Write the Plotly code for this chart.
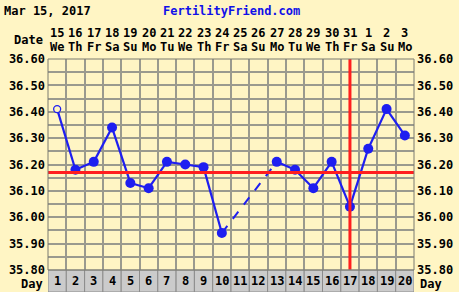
import plotly.graph_objects as go

days = list(range(1, 21))
dates = ["15", "16", "17", "18", "19", "20", "21", "22", "23", "24",
         "25", "26", "27", "28", "29", "30", "31", "1", "2", "3"]
weekdays = ["We", "Th", "Fr", "Sa", "Su", "Mo", "Tu", "We", "Th", "Fr",
            "Sa", "Su", "Mo", "Tu", "We", "Th", "Fr", "Sa", "Su", "Mo"]
temps = [36.41, 36.18, 36.21, 36.34, 36.13, 36.11, 36.21, 36.20, 36.19, 35.94,
         None, None, 36.21, 36.18, 36.11, 36.21, 36.04, 36.26, 36.41, 36.31]
open_days = [1]
coverline = 36.17
ovulation_day = 17
y_labels = [35.80, 35.90, 36.00, 36.10, 36.20, 36.30, 36.40, 36.50, 36.60]

BG = "#FFF5C4"
GRID = "#9A9A8E"
BLUE = "#1E1EF0"
RED = "#FF1E1E"
FONT = "DejaVu Sans Mono"

W, H = 459, 292
ML, MR, MT, MB = 48, 45, 59, 22
plot_h = H - MT - MB
plot_w = W - ML - MR

fig = go.Figure()

seg_x, seg_y = [], []
known = [(d, t) for d, t in zip(days, temps) if t is not None]
for (d0, t0), (d1, t1) in zip(known[:-1], known[1:]):
    if d1 - d0 == 1:
        seg_x += [d0, d1, None]
        seg_y += [t0, t1, None]
    else:
        fig.add_trace(go.Scatter(x=[d0, d1], y=[t0, t1], mode="lines",
                                 line=dict(color=BLUE, width=2, dash="dash"),
                                 hoverinfo="skip", showlegend=False))
fig.add_trace(go.Scatter(x=seg_x, y=seg_y, mode="lines",
                         line=dict(color=BLUE, width=2.2),
                         hoverinfo="skip", showlegend=False))

fx = [d for d, t in zip(days, temps) if t is not None and d not in open_days]
fy = [t for d, t in zip(days, temps) if t is not None and d not in open_days]
fig.add_trace(go.Scatter(x=fx, y=fy, mode="markers",
                         marker=dict(color=BLUE, size=10, line=dict(width=0)),
                         showlegend=False))
ox = [d for d, t in zip(days, temps) if d in open_days]
oy = [t for d, t in zip(days, temps) if d in open_days]
fig.add_trace(go.Scatter(x=ox, y=oy, mode="markers",
                         marker=dict(color=BG, size=7, symbol="circle",
                                     line=dict(color=BLUE, width=1.3)),
                         showlegend=False))

fig.add_trace(go.Scatter(x=[days[0]], y=[y_labels[0]], yaxis="y2", mode="markers",
                         marker=dict(opacity=0), hoverinfo="skip", showlegend=False))

shapes = []
shapes.append(dict(type="line", xref="paper", yref="y", x0=0, x1=1,
                   y0=coverline, y1=coverline, line=dict(color=RED, width=3), layer="above"))
shapes.append(dict(type="line", xref="x", yref="paper", x0=ovulation_day, x1=ovulation_day,
                   y0=0, y1=1, line=dict(color=RED, width=3), layer="above"))
cell_h = MB / plot_h
for d in days:
    shapes.append(dict(type="rect", xref="x", yref="paper", x0=d - 0.5, x1=d + 0.5,
                       y0=-cell_h, y1=0, fillcolor="#CBCBCB",
                       line=dict(color="#8C8C8C", width=1), layer="above"))
shapes.append(dict(type="rect", xref="paper", yref="paper", x0=0, x1=1, y0=0, y1=1,
                   line=dict(color="#7A7A70", width=1), layer="above"))

annotations = []
lab_font = dict(family=FONT, size=12, color="#000000")
for d, dt, wd in zip(days, dates, weekdays):
    annotations.append(dict(x=d, y=1 + 26 / plot_h, xref="x", yref="paper", text="<b>%s</b>" % dt,
                            showarrow=False, font=lab_font, xanchor="center", yanchor="middle"))
    annotations.append(dict(x=d, y=1 + 12 / plot_h, xref="x", yref="paper", text="<b>%s</b>" % wd,
                            showarrow=False, font=lab_font, xanchor="center", yanchor="middle"))
    annotations.append(dict(x=d, y=-11 / plot_h, xref="x", yref="paper", text="<b>%d</b>" % d,
                            showarrow=False, font=lab_font, xanchor="center", yanchor="middle"))
annotations.append(dict(x=-3 / plot_w, y=1 + 19 / plot_h, xref="paper", yref="paper",
                        text="<b>Date</b>", showarrow=False, font=lab_font,
                        xanchor="right", yanchor="middle"))
annotations.append(dict(x=-3 / plot_w, y=-14 / plot_h, xref="paper", yref="paper",
                        text="<b>Day</b>", showarrow=False, font=lab_font,
                        xanchor="right", yanchor="middle"))
annotations.append(dict(x=1 + 4 / plot_w, y=-14 / plot_h, xref="paper", yref="paper",
                        text="<b>Day</b>", showarrow=False, font=lab_font,
                        xanchor="left", yanchor="middle"))
annotations.append(dict(x=-46 / plot_w, y=1 + 48 / plot_h, xref="paper", yref="paper",
                        text="<b>Mar 15, 2017</b>", showarrow=False, font=lab_font,
                        xanchor="left", yanchor="middle"))
annotations.append(dict(x=(231 - ML) / plot_w, y=1 + 48 / plot_h, xref="paper", yref="paper",
                        text="<b>FertilityFriend.com</b>", showarrow=False,
                        font=dict(family=FONT, size=12, color="#1010E8"),
                        xanchor="center", yanchor="middle"))

yaxis_common = dict(range=[y_labels[0], y_labels[-1]], tickvals=y_labels,
                    ticktext=["<b>%.2f</b>" % v for v in y_labels],
                    tickfont=dict(family=FONT, size=12, color="#000000"),
                    ticks="", zeroline=False, fixedrange=True, automargin=False)

fig.update_layout(
    width=W, height=H,
    margin=dict(l=ML, r=MR, t=MT, b=MB, pad=2, autoexpand=False),
    paper_bgcolor=BG, plot_bgcolor=BG,
    xaxis=dict(range=[0.5, 20.5], tickvals=[i + 0.5 for i in range(0, 21)],
               showticklabels=False, showgrid=True, gridcolor=GRID, gridwidth=1.5,
               zeroline=False, ticks="", automargin=False),
    yaxis=dict(**yaxis_common, showgrid=True, gridcolor=GRID, gridwidth=1.5,
               minor=dict(dtick=0.05, tick0=35.8, showgrid=True, gridcolor=GRID, gridwidth=1.5)),
    yaxis2=dict(**yaxis_common, overlaying="y", side="right", showgrid=False),
    shapes=shapes,
    annotations=annotations,
    showlegend=False,
)

fig.write_html("out.html")
